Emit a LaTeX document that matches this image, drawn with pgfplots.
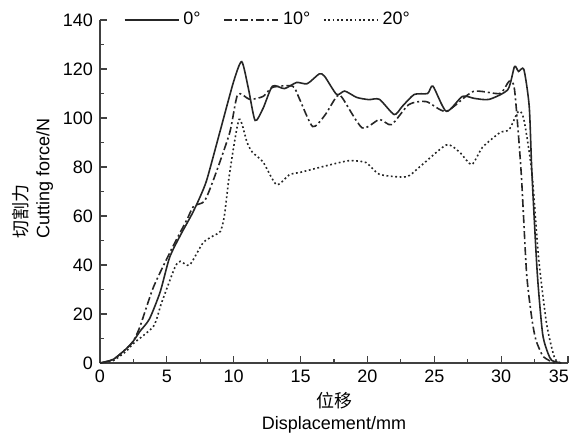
\documentclass[border=0pt]{standalone}
\usepackage{pgfplots}
\pgfplotsset{compat=1.18}
\usepackage{fontspec}
\setmainfont{Liberation Sans}
\newfontfamily\cjk{Noto Sans CJK SC}
\begin{document}
\begin{tikzpicture}
\path[use as bounding box] (-50pt,-37.5pt) rectangle (235.5pt,181.5pt);
\begin{axis}[
    at={(0,0)}, anchor=south west,
    scale only axis,
    width=234pt, height=171.5pt,
    xmin=0, xmax=35, ymin=0, ymax=140,
    axis x line=bottom, axis y line=left,
    axis line style={-, line width=0.7pt, black!75},
    xtick={0,5,...,35}, ytick={0,20,...,140},
    xticklabels={0,5,10,15,20,25,30,\makebox[1pt][r]{35}},
    minor x tick num=1, minor y tick num=1,
    tick align=inside,
    major tick length=3.5pt, minor tick length=2pt,
    tick style={line width=0.6pt, black!75},
    /pgf/number format/assume math mode=true,
    tick label style={font=\fontsize{9}{10}\selectfont},
    label style={font=\fontsize{9}{11}\selectfont},
    xlabel={{\cjk 位移}\\Displacement/mm},
    ylabel={{\cjk 切割力}\\Cutting force/N},
    xlabel style={yshift=2pt, align=center},
    ylabel style={align=left, at={(ticklabel cs:0.538)}, yshift=-2pt},
    legend style={at={(rel axis cs:0.05,1)}, anchor=west, draw=none, fill=none,
        font=\fontsize{9}{10}\selectfont, inner sep=0pt},
    legend columns=3,
    legend image code/.code={\draw[#1] (0pt,0pt) -- (27pt,0pt);},
    /tikz/every even column/.append style={column sep=4pt},
    every axis plot/.append style={smooth, tension=0.4, line width=0.8pt, black!85},
]
\addplot[solid] coordinates {
(0,0) (1,1.5) (2,6) (2.5,9) (3,13) (3.7,18) (4.5,29) (5.2,43) (6,52) (6.9,61)
(7.5,68) (8,75) (9,95) (10,115) (10.6,123) (11.1,112) (11.6,99) (12.2,104)
(12.9,113) (13.8,112) (14.7,114.5) (15.5,114) (16.4,118) (16.8,117) (17.7,109.6)
(18.3,111) (19.2,108.4) (20.1,107.5) (20.9,107.6) (22,101.4) (22.6,104.7)
(23.5,109.6) (24.5,110) (24.9,113) (25.9,102.7) (27.1,108.8) (28,108) (29.1,107.6)
(30.5,111.6) (31,121) (31.3,119) (31.7,119.8) (32.1,104.7) (32.3,77.6) (32.7,36.8)
(33.1,12) (33.5,4) (33.8,1) (34.5,0)
};
\addlegendentry{\makebox[14pt][l]{0°}}
\addplot[dash pattern=on 4pt off 1.5pt on 1pt off 1.5pt] coordinates {
(0,0) (1,1.5) (2,6) (2.5,9) (3,15) (4,31) (5.4,47) (6.5,58.5) (7,64) (7.8,66)
(8.5,75) (9.7,94) (10.3,109.6) (11.2,107.6) (12.2,108.8) (12.9,112.5) (14.4,113)
(14.9,108) (15.9,96.5) (16.8,101) (17.7,108.8) (18.1,108.4) (19.6,96) (20.9,99.4)
(21.8,97.3) (23.1,105.5) (24.4,106.7) (25.9,102.7) (27.9,110.8) (29.9,110)
(30.6,115) (31,111.6) (31.5,77.6) (31.9,36.8) (32.3,18) (32.6,9.4) (33.1,3)
(33.6,1) (34,0)
};
\addlegendentry{\makebox[14pt][l]{10°}}
\addplot[dash pattern=on 0.9pt off 1.3pt] coordinates {
(0,0) (1,1) (2,5) (2.5,8) (4,15) (4.6,24.5) (5.6,39) (6,41.5) (6.7,40) (7.7,49)
(8.5,52) (9,53.7) (9.3,60) (9.7,77.7) (10.4,99.4) (11,90) (11.4,86) (12.2,82)
(13.2,72.8) (14.2,77) (14.9,77.7) (16.4,79.8) (17.9,81.8) (18.7,82.6) (19.9,81.8)
(20.9,77) (22.9,76) (23.9,80) (25.9,89) (26.9,86) (27.8,81) (28.6,88) (29.9,94)
(30.6,95.3) (31.3,102.7) (31.7,99.4) (32.3,77.7) (32.8,43) (33.4,16) (34,2)
(34.5,0)
};
\addlegendentry{\makebox[14pt][l]{20°}}
\end{axis}
\end{tikzpicture}
\end{document}
